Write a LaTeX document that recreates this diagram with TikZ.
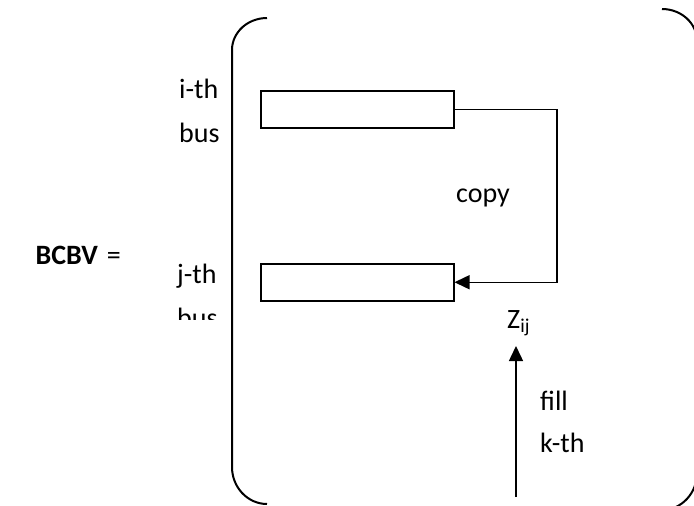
\documentclass[tikz,border=0pt]{standalone}
\usepackage{fontspec}
\setmainfont{Carlito}
\usetikzlibrary{arrows.meta}
\begin{document}
\begin{tikzpicture}[x=1pt,y=-1pt,
  lbl/.style={anchor=base west,inner sep=0pt,font=\fontsize{28}{34}\selectfont},
  busbox/.style={draw,line width=1.5pt,minimum width=193pt,minimum height=37pt,inner sep=0pt,anchor=north west},
  conn/.style={line width=1.5pt,-{Triangle[length=15pt,width=14pt]}},
  brk/.style={line width=2pt}]
\useasboundingbox (0,0) rectangle (694,506);
\begin{scope}
\clip (0,0) rectangle (694,506);
% brackets
\draw[brk] (267,18) .. controls (247.7,18) and (232,32.3) .. (232,50) -- (232,467) .. controls (232,487.4) and (247.7,504) .. (267,504);
\draw[brk] (662,9) .. controls (681.3,9) and (697,23.3) .. (697,41) -- (697,473) .. controls (697,493.4) and (681.3,510) .. (662,510);
\end{scope}
% boxes
\node[busbox] (bi) at (260,90) {};
\node[busbox] (bj) at (260,263) {};
\coordinate (xcol) at (557,0);
\draw[conn] (bi.east) -- (bi.east -| xcol) |- (bj.east);
% labels
\node[lbl,anchor=base east] (bcbv) at (121,264) {\textbf{BCBV}\hspace{9pt}=};
\node[lbl] (ith) at (179,98) {i-th};
\node[lbl] (ibus) at (179,142) {bus};
\node[lbl] (jth) at (177,283) {j-th};
\begin{scope}
\clip (0,0) rectangle (694,319);
\node[lbl] (jbus) at (177,327) {bus};
\end{scope}
\node[lbl] (copy) at (456,202) {copy};
\node[lbl] (z) at (507,328) {Z\textsubscript{ij}};
\node[lbl] (fill) at (540,410) {fill};
\node[lbl] (kth) at (540,452) {k-th};
% vertical arrow
\coordinate (kbot) at (516,497);
\coordinate (ktip) at (516,346);
\draw[conn] (kbot) -- (ktip);
\end{tikzpicture}
\end{document}
